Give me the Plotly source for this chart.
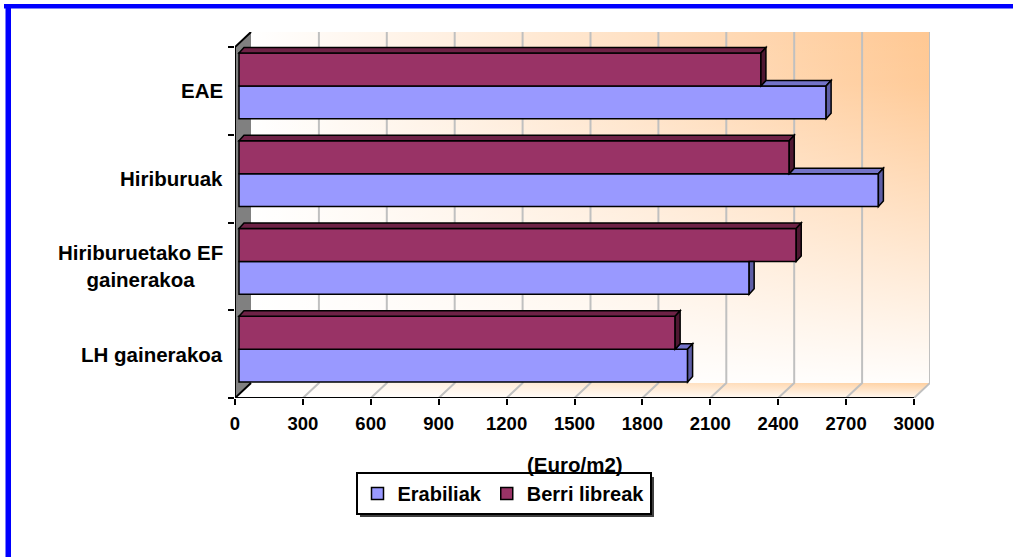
import plotly.graph_objects as go

# ---- data -------------------------------------------------------------
categories = ["EAE", "Hiriburuak", "Hiriburuetako EF<br>gainerakoa", "LH gainerakoa"]
erabiliak = [2594, 2825, 2254, 1982]
berri_libreak = [2306, 2431, 2462, 1927]
x_ticks = [0, 300, 600, 900, 1200, 1500, 1800, 2100, 2400, 2700, 3000]
series_names = ["Erabiliak", "Berri libreak"]
unit_label = "(Euro/m2)"

# ---- layout constants (pixels) -----------------------------------------
W, H = 1013, 557
PLOT_L, PLOT_R, PLOT_T, PLOT_B = 235, 930, 32, 398
WALL_DX_PX, WALL_DY_PX = 16, 15          # depth of the 3-D box
BAR_OFF_DX_PX, BAR_OFF_DY_PX = 4, 5      # bars sit slightly behind the front plane
BAR_DEPTH_DX_PX, BAR_DEPTH_DY_PX = 5, 5.5
LEGEND_BOX = (357, 474, 651, 514)        # approximate legend frame, for its shadow
FONT = "Liberation Sans"

BLUE, BLUE_TOP, BLUE_SIDE = "#9999FF", "#7373C8", "#5E5EA6"
MAROON, MAROON_TOP, MAROON_SIDE = "#993366", "#6E2246", "#4F1832"
GRID = "#C0C0C0"

x_max = x_ticks[-1]
n = len(categories)
kx = (PLOT_R - PLOT_L - WALL_DX_PX) / x_max      # px per euro
ky = (PLOT_B - PLOT_T - WALL_DY_PX) / n          # px per category
wall_dx = WALL_DX_PX / kx
wall_dy = WALL_DY_PX / ky
x_range = [0, x_max + wall_dx]
y_range = [-0.5, n - 0.5 + wall_dy]
bar_ox = BAR_OFF_DX_PX / kx
bar_oy = BAR_OFF_DY_PX / ky
bdx = BAR_DEPTH_DX_PX / kx
bdy = BAR_DEPTH_DY_PX / ky

cat_order = categories[::-1]  # bottom to top


def px_x(p):
    return (p - PLOT_L) / (PLOT_R - PLOT_L)


def px_y(p):
    return (PLOT_B - p) / (PLOT_B - PLOT_T)


fig = go.Figure()

# back wall with a white -> peach gradient fading towards the floor
y_lo, y_hi = -0.5 + wall_dy, n - 0.5 + wall_dy
wall_x = [wall_dx, x_max + wall_dx, x_max + wall_dx, wall_dx, wall_dx]
wall_y = [y_lo, y_lo, y_hi, y_hi, y_lo]
fig.add_trace(go.Scatter(
    x=wall_x, y=wall_y, mode="lines", fill="toself", line=dict(width=0),
    fillgradient=dict(type="horizontal",
                      colorscale=[[0, "#FFFFFF"], [0.55, "#FFE2C6"], [1, "#FFC893"]]),
    hoverinfo="skip", showlegend=False))
fig.add_trace(go.Scatter(
    x=wall_x, y=wall_y, mode="lines", fill="toself", line=dict(width=0),
    fillgradient=dict(type="vertical",
                      colorscale=[[0, "rgba(255,255,255,0.97)"],
                                  [0.85, "rgba(255,255,255,0.05)"],
                                  [1, "rgba(255,255,255,0)"]]),
    hoverinfo="skip", showlegend=False))

# floor
floor_x = [0, x_max, x_max + wall_dx, wall_dx, 0]
floor_y = [-0.5, -0.5, y_lo, y_lo, -0.5]
fig.add_trace(go.Scatter(
    x=floor_x, y=floor_y, mode="lines", fill="toself", line=dict(width=0),
    fillgradient=dict(type="horizontal",
                      colorscale=[[0, "#FFFFFF"], [1, "#FFD0A0"]]),
    hoverinfo="skip", showlegend=False))
fig.add_trace(go.Scatter(
    x=floor_x, y=floor_y, mode="lines", fill="toself", line=dict(width=0),
    fillgradient=dict(type="vertical",
                      colorscale=[[0, "rgba(255,255,255,0.85)"],
                                  [1, "rgba(255,255,255,0)"]]),
    hoverinfo="skip", showlegend=False))

# grey side wall
fig.add_trace(go.Scatter(
    x=[0, 0, wall_dx, wall_dx, 0], y=[-0.5, n - 0.5, y_hi, y_lo, -0.5],
    mode="lines", fill="toself", fillcolor="#808080", line=dict(width=0),
    hoverinfo="skip", showlegend=False))

# gridlines on the back wall and across the floor
gx, gy = [], []
for v in x_ticks[1:]:
    gx += [v, v + wall_dx, v + wall_dx, None]
    gy += [-0.5, y_lo, y_hi, None]
fig.add_trace(go.Scatter(x=gx, y=gy, mode="lines",
                         line=dict(color=GRID, width=2),
                         hoverinfo="skip", showlegend=False))

# black edges: side wall outline and the value axis line
fig.add_trace(go.Scatter(
    x=[wall_dx, 0, 0, x_max, None, 0, wall_dx],
    y=[y_hi, n - 0.5, -0.5, -0.5, None, -0.5, y_lo],
    mode="lines", line=dict(color="black", width=2),
    hoverinfo="skip", showlegend=False))

# bars (front faces)
for name, vals, col in [(series_names[0], erabiliak, BLUE),
                        (series_names[1], berri_libreak, MAROON)]:
    fig.add_trace(go.Bar(
        x=vals, y=categories, orientation="h", name=f"<b>{name}</b>",
        marker=dict(color=col, line=dict(color="black", width=1.5)),
        xaxis="x2", yaxis="y2", hoverinfo="skip"))


def poly(pts):
    return "M " + " L ".join(f"{x},{y}" for x, y in pts) + " Z"


shapes = []
half = 0.375
for c, b, m in zip(categories, erabiliak, berri_libreak):
    i = cat_order.index(c)
    bb, tb, tm = i - half, i, i + half
    # blue (lower) bar depth faces, trimmed where the maroon bar hides them
    if b > m:
        shapes.append(dict(type="path", xref="x2", yref="y2",
                           path=poly([(m, tb), (b, tb), (b + bdx, tb + bdy), (m + bdx, tb + bdy)]),
                           fillcolor=BLUE_TOP, line=dict(color="black", width=1.5)))
        side = [(b, bb), (b, tb), (b + bdx, tb + bdy), (b + bdx, bb + bdy)]
    else:
        side = [(b, bb), (b, tb), (b + bdx, tb), (b + bdx, bb + bdy)]
    shapes.append(dict(type="path", xref="x2", yref="y2", path=poly(side),
                       fillcolor=BLUE_SIDE, line=dict(color="black", width=1.5)))
    # maroon (upper) bar depth faces
    shapes.append(dict(type="path", xref="x2", yref="y2",
                       path=poly([(0, tm), (m, tm), (m + bdx, tm + bdy), (bdx, tm + bdy)]),
                       fillcolor=MAROON_TOP, line=dict(color="black", width=1.5)))
    shapes.append(dict(type="path", xref="x2", yref="y2",
                       path=poly([(m, tb), (m, tm), (m + bdx, tm + bdy), (m + bdx, tb + bdy)]),
                       fillcolor=MAROON_SIDE, line=dict(color="black", width=1.5)))

# blue frame along the top and left edges of the page
shapes.append(dict(type="rect", xref="paper", yref="paper",
                   x0=px_x(4), x1=px_x(W + 2), y0=px_y(4), y1=px_y(8.5),
                   fillcolor="#0000FF", line=dict(width=0)))
shapes.append(dict(type="rect", xref="paper", yref="paper",
                   x0=px_x(5.5), x1=px_x(11), y0=px_y(4), y1=px_y(H + 2),
                   fillcolor="#0000FF", line=dict(width=0)))

# drop shadow under the legend frame
lx0, ly0, lx1, ly1 = LEGEND_BOX
shapes.append(dict(type="rect", xref="paper", yref="paper",
                   x0=px_x(lx0 + 3), x1=px_x(lx1 + 3), y0=px_y(ly1 + 3), y1=px_y(ly0 + 3),
                   fillcolor="#404040", line=dict(width=0), layer="below"))

# category labels, centred lines right-aligned against the axis
annotations = []
for c in categories:
    annotations.append(dict(
        x=px_x(225), xref="paper", y=cat_order.index(c), yref="y",
        text=f"<b>{c}</b>", showarrow=False, xanchor="right", yanchor="middle",
        align="center", font=dict(family=FONT, size=20.5, color="black")))
annotations.append(dict(
    x=x_max / 2, xref="x", y=px_y(464), yref="paper", text=f"<b>{unit_label}</b>",
    showarrow=False, xanchor="center", yanchor="middle",
    font=dict(family=FONT, size=20.5, color="black")))

fig.update_layout(
    width=W, height=H,
    margin=dict(l=PLOT_L, r=W - PLOT_R, t=PLOT_T, b=H - PLOT_B, pad=0),
    paper_bgcolor="white", plot_bgcolor="rgba(0,0,0,0)",
    barmode="group", bargap=0.25, bargroupgap=0,
    hovermode=False,
    font=dict(family=FONT, color="black"),
    xaxis=dict(range=x_range, tickvals=x_ticks,
               ticktext=[f"<b>{v}</b>" for v in x_ticks],
               ticks="outside", ticklen=6, tickwidth=2, tickcolor="black",
               ticklabelstandoff=3,
               tickfont=dict(family=FONT, size=18.5, color="black"),
               showgrid=False, zeroline=False, showline=False, fixedrange=True),
    yaxis=dict(range=y_range, tickvals=[k - 0.5 for k in range(n + 1)],
               showticklabels=False, ticks="outside", ticklen=6, tickwidth=2,
               tickcolor="black", showgrid=False, zeroline=False,
               showline=False, fixedrange=True),
    xaxis2=dict(overlaying="x", range=[r - bar_ox for r in x_range],
                visible=False, fixedrange=True),
    yaxis2=dict(overlaying="y", type="category", categoryorder="array",
                categoryarray=cat_order, range=[r - bar_oy for r in y_range],
                visible=False, fixedrange=True),
    legend=dict(orientation="h", x=px_x(503.5), xanchor="center",
                y=px_y(472), yanchor="top", bgcolor="white",
                bordercolor="black", borderwidth=2,
                font=dict(family=FONT, size=20, color="black"),
                itemwidth=30, tracegroupgap=0,
                traceorder="normal"),
    shapes=shapes,
    annotations=annotations,
)

fig.write_html("out.html")
